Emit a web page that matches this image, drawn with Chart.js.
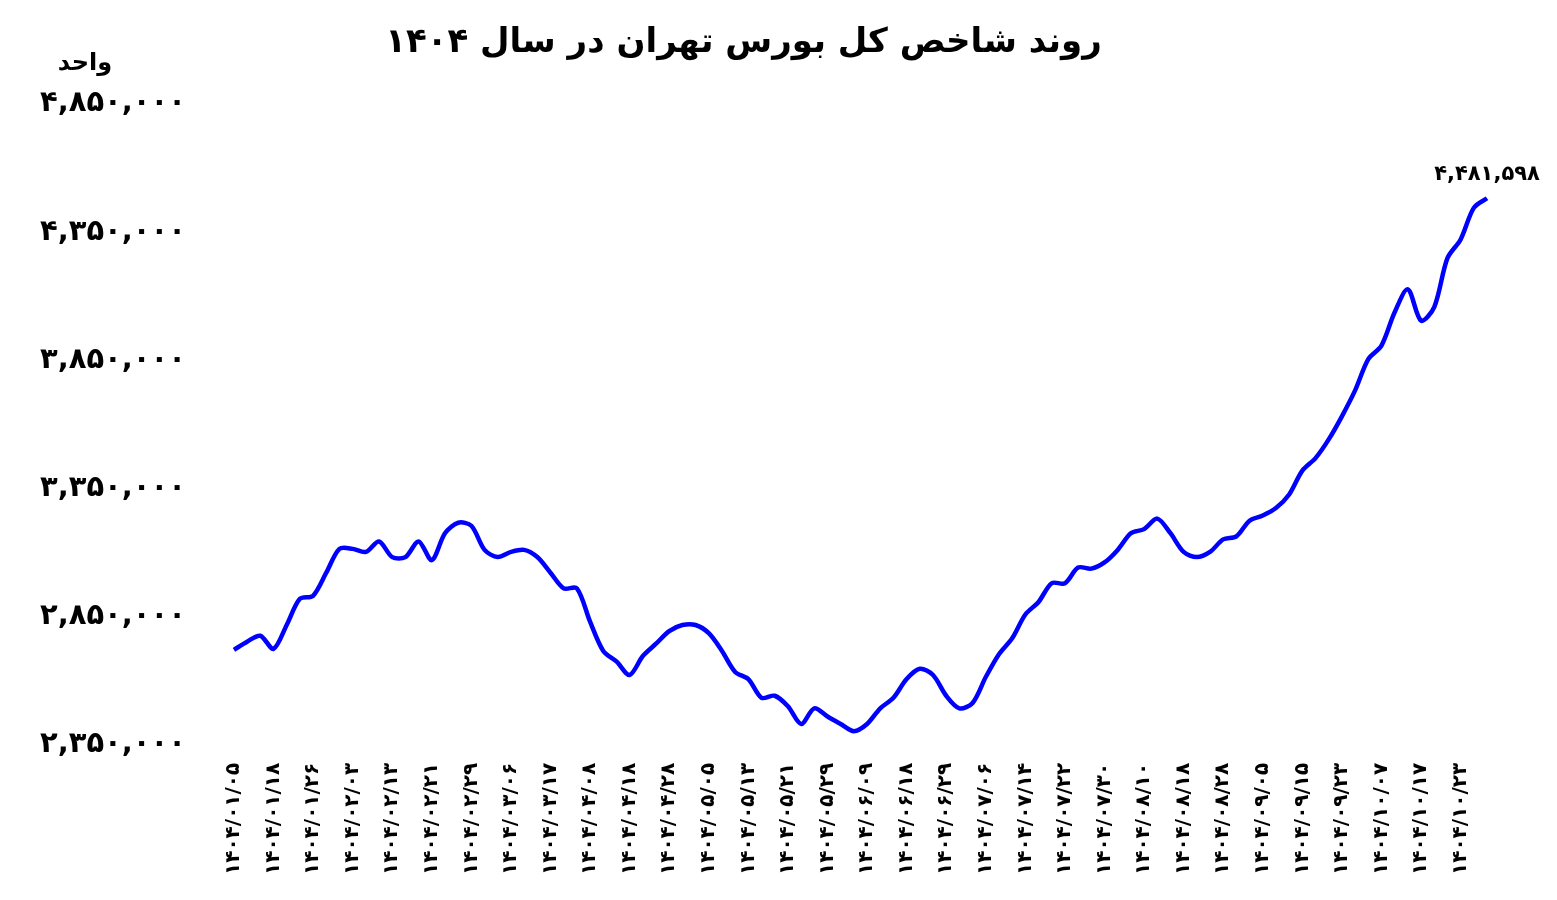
<!DOCTYPE html>
<html>
<head>
<meta charset="utf-8">
<script src="https://cdn.jsdelivr.net/npm/chart.js"></script>
<style>
  body { margin: 0; background: #fff; font-family: 'DejaVu Sans'; }
  .chart-container { width: 1557px; height: 900px; }
</style>
</head>
<body>
<div class="chart-container"><canvas id="indexChart"></canvas></div>
<script>
const dateTicks = [
  '1404/01/05','1404/01/18','1404/01/26','1404/02/03','1404/02/13','1404/02/21','1404/02/29','1404/03/06',
  '1404/03/17','1404/04/08','1404/04/18','1404/04/28','1404/05/05','1404/05/13','1404/05/21','1404/05/29',
  '1404/06/09','1404/06/18','1404/06/29','1404/07/06','1404/07/14','1404/07/22','1404/07/30','1404/08/10',
  '1404/08/18','1404/08/28','1404/09/05','1404/09/15','1404/09/23','1404/10/07','1404/10/17','1404/10/23'
];
// values in thousands (one point per third of a tick gap)
const indexValues = [
  2720,2752,2775,2724,2817,2919,2931,3021,3114,3114,3102,3143,3082,3082,3143,3070,
  3175,3216,3204,3110,3082,3102,3110,3082,3021,2960,2960,2830,2716,2675,2622,2696,
  2744,2793,2817,2817,2785,2716,2634,2606,2533,2541,2500,2431,2492,2460,2431,2403,
  2431,2492,2533,2606,2646,2622,2541,2492,2513,2614,2703,2765,2858,2907,2980,2980,
  3041,3037,3061,3110,3175,3191,3232,3175,3102,3082,3102,3151,3163,3224,3244,3273,
  3326,3419,3468,3541,3631,3732,3854,3907,4037,4126,4004,4057,4248,4321,4444,4481.598
].map(v => Math.round(v * 1000));

const yMin = 2350000, yMax = 4850000, yStep = 500000;

const fa = s => String(s).replace(/\d/g, d => '۰۱۲۳۴۵۶۷۸۹'[d]);
const labels = indexValues.map((v, i) => i % 3 === 0 && dateTicks[i / 3] ? dateTicks[i / 3] : '');

const extras = {
  id: 'extras',
  afterDraw(chart) {
    const c = chart.ctx;
    const meta = chart.getDatasetMeta(0);
    const last = meta.data[meta.data.length - 1];
    c.save();
    c.fillStyle = '#000';
    c.textAlign = 'center';
    c.font = 'bold 21px "DejaVu Sans"';
    c.fillText(fa(indexValues[indexValues.length - 1].toLocaleString('en-US')), last.x, last.y - 18);
    c.font = 'bold 24px "DejaVu Sans"';
    c.fillText('واحد', 85, 70);
    c.restore();
  }
};

new Chart(document.getElementById('indexChart'), {
  type: 'line',
  data: {
    labels: labels,
    datasets: [{
      data: indexValues,
      borderColor: '#0000ff',
      borderWidth: 4.5,
      pointRadius: 0,
      tension: 0.3,
      fill: false
    }]
  },
  options: {
    responsive: true,
    maintainAspectRatio: false,
    animation: false,
    layout: { padding: { left: 0, right: 70, top: 8, bottom: 15 } },
    plugins: {
      legend: { display: false },
      tooltip: { enabled: false },
      title: {
        display: true,
        text: 'روند شاخص کل بورس تهران در سال ۱۴۰۴',
        color: '#000',
        font: { family: 'DejaVu Sans', size: 34, weight: 'bold' },
        padding: { top: 15, bottom: 40 }
      }
    },
    scales: {
      x: {
        grid: { display: false },
        border: { display: false },
        ticks: {
          autoSkip: false,
          maxRotation: 90,
          minRotation: 90,
          padding: 10,
          color: '#000',
          font: { family: 'DejaVu Sans', size: 20, weight: 'bold' },
          callback: function (value) { return fa(this.getLabelForValue(value)); }
        }
      },
      y: {
        min: yMin,
        max: yMax,
        grid: { display: false },
        border: { display: false },
        ticks: {
          stepSize: yStep,
          padding: 40,
          color: '#000',
          font: { family: 'DejaVu Sans', size: 29, weight: 'bold' },
          callback: v => fa(v.toLocaleString('en-US'))
        }
      }
    }
  },
  plugins: [extras]
});
</script>
</body>
</html>
